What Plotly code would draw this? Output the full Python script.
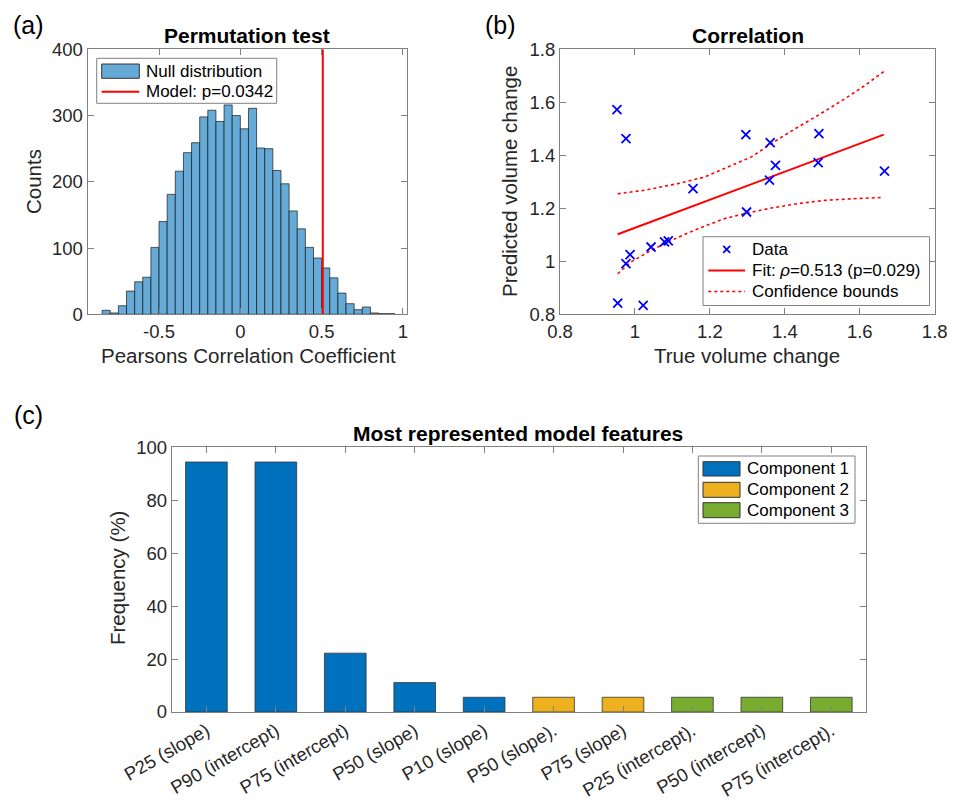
import plotly.graph_objects as go

W, H = 953, 801

# ---------------- (a) Permutation test ----------------
hist_first_edge = -0.85
hist_bin_width = 0.05
hist_counts = [6, 2, 13, 35, 49, 56, 101, 140, 181, 216, 244, 259, 298, 308, 291, 316,
               300, 280, 311, 251, 250, 217, 197, 156, 129, 101, 85, 70, 55, 32, 16, 7,
               11, 2, 1, 1]
model_r = 0.507
hist_xticks = [-0.5, 0, 0.5, 1]
hist_xticklabels = ["-0.5", "0", "0.5", "1"]
hist_yticks = [0, 100, 200, 300, 400]

# ---------------- (b) Correlation ----------------
true_change = [0.952, 0.976, 1.296, 1.361, 1.491, 1.375, 1.489, 1.359, 1.666, 1.155,
               1.298, 1.079, 1.089, 1.043, 0.987, 0.976, 0.954, 1.022]
pred_change = [1.572, 1.463, 1.478, 1.448, 1.482, 1.362, 1.372, 1.306, 1.340, 1.274,
               1.186, 1.073, 1.077, 1.054, 1.025, 0.991, 0.842, 0.834]
fit_x = [0.954, 1.664]
fit_y = [1.102, 1.478]
ci_upper_x = [0.954, 1.025, 1.114, 1.186, 1.248, 1.311, 1.364, 1.427, 1.489, 1.561, 1.614, 1.664]
ci_upper_y = [1.255, 1.268, 1.293, 1.318, 1.356, 1.394, 1.444, 1.500, 1.551, 1.614, 1.664, 1.716]
ci_lower_x = [0.954, 0.989, 1.043, 1.097, 1.168, 1.239, 1.293, 1.364, 1.436, 1.507, 1.579, 1.650, 1.664]
ci_lower_y = [0.953, 0.997, 1.041, 1.079, 1.123, 1.161, 1.180, 1.201, 1.218, 1.230, 1.236, 1.240, 1.241]
corr_ticks = [0.8, 1.0, 1.2, 1.4, 1.6, 1.8]
corr_ticklabels = ["0.8", "1", "1.2", "1.4", "1.6", "1.8"]

# ---------------- (c) Most represented model features ----------------
feature_labels = ["P25 (slope)", "P90 (intercept)", "P75 (intercept)", "P50 (slope)",
                  "P10 (slope)", "P50 (slope).", "P75 (slope)", "P25 (intercept).",
                  "P50 (intercept)", "P75 (intercept)."]
feature_freq = [94.44, 94.44, 22.22, 11.11, 5.56, 5.56, 5.56, 5.56, 5.56, 5.56]
feature_component = [1, 1, 1, 1, 1, 2, 2, 3, 3, 3]
component_names = ["Component 1", "Component 2", "Component 3"]
component_colors = ["#0072BD", "#EDB120", "#77AC30"]

FONT = "Liberation Sans, Arial, Helvetica, sans-serif"
TXT = "#262626"
AX = "#808080"
HIST_COLOR = "#66AAD7"


def X(px):
    return px / W


def Y(py):
    return 1 - py / H


fig = go.Figure()

# histogram bars
centers = [hist_first_edge + (i + 0.5) * hist_bin_width for i in range(len(hist_counts))]
fig.add_trace(go.Bar(x=centers, y=hist_counts, width=hist_bin_width,
                     marker=dict(color=HIST_COLOR, line=dict(color="rgba(20,20,20,0.85)", width=0.8)),
                     xaxis="x", yaxis="y", showlegend=False))
fig.add_trace(go.Scatter(x=[model_r, model_r], y=[hist_yticks[0], hist_yticks[-1]], mode="lines",
                         line=dict(color="#FF0000", width=2), xaxis="x", yaxis="y", showlegend=False))

# correlation
fig.add_trace(go.Scatter(x=ci_upper_x, y=ci_upper_y, mode="lines",
                         line=dict(color="#FF0000", width=1.6, dash="dot"),
                         xaxis="x2", yaxis="y2", showlegend=False))
fig.add_trace(go.Scatter(x=ci_lower_x, y=ci_lower_y, mode="lines",
                         line=dict(color="#FF0000", width=1.6, dash="dot"),
                         xaxis="x2", yaxis="y2", showlegend=False))
fig.add_trace(go.Scatter(x=fit_x, y=fit_y, mode="lines",
                         line=dict(color="#FF0000", width=2),
                         xaxis="x2", yaxis="y2", showlegend=False))
fig.add_trace(go.Scatter(x=true_change, y=pred_change, mode="markers",
                         marker=dict(symbol="x-thin", size=9, line=dict(color="#0000FF", width=1.8)),
                         xaxis="x2", yaxis="y2", showlegend=False))

# feature bars
for ci, (cname, ccol) in enumerate(zip(component_names, component_colors), start=1):
    xs = [i + 1 for i, c in enumerate(feature_component) if c == ci]
    ys = [feature_freq[i] for i, c in enumerate(feature_component) if c == ci]
    fig.add_trace(go.Bar(x=xs, y=ys, width=0.6, name=cname,
                         marker=dict(color=ccol, line=dict(color="#333333", width=0.8)),
                         xaxis="x3", yaxis="y3", showlegend=False))

axis_common = dict(showline=True, linecolor=AX, linewidth=1, mirror="ticks", ticks="inside",
                   ticklen=6, tickcolor=AX, tickwidth=1, showgrid=False, zeroline=False,
                   automargin=False,
                   tickfont=dict(family=FONT, size=18.5, color=TXT))

ya_dom = [Y(314.3), Y(49.3)]
fig.update_layout(
    width=W, height=H, margin=dict(l=0, r=0, t=0, b=0, autoexpand=False),
    paper_bgcolor="white", plot_bgcolor="white", barmode="overlay",
    font=dict(family=FONT, color=TXT),
    xaxis=dict(domain=[X(87.5), X(407)], range=[-0.94, 1.025], tickvals=hist_xticks,
               ticktext=hist_xticklabels, anchor="y", **axis_common),
    yaxis=dict(domain=ya_dom, range=[0, 400], tickvals=hist_yticks, anchor="x", **axis_common),
    xaxis2=dict(domain=[X(560), X(934.7)], range=[0.8, 1.8], tickvals=corr_ticks,
                ticktext=corr_ticklabels, anchor="y2", **axis_common),
    yaxis2=dict(domain=ya_dom, range=[0.8, 1.8], tickvals=corr_ticks,
                ticktext=corr_ticklabels, anchor="x2", **axis_common),
    xaxis3=dict(domain=[X(171.7), X(866)], range=[0.5, 10.5],
                tickvals=list(range(1, len(feature_labels) + 1)), ticktext=feature_labels,
                tickangle=-30, anchor="y3", **axis_common),
    yaxis3=dict(domain=[Y(712), Y(447.3)], range=[0, 100], tickvals=[0, 20, 40, 60, 80, 100],
                anchor="x3", **axis_common),
)

ann = []


def text(px, py, s, size, bold=False, xanchor="center", angle=0, color=TXT):
    ann.append(dict(x=X(px), y=Y(py), xref="paper", yref="paper", text=("<b>%s</b>" % s) if bold else s,
                    showarrow=False, xanchor=xanchor, yanchor="middle", textangle=angle,
                    font=dict(family=FONT, size=size, color=color)))


# panel labels
text(28, 25, "(a)", 25, color="#000000")
text(500, 25, "(b)", 25, color="#000000")
text(28, 415, "(c)", 25, color="#000000")
# titles
text(247, 35, "Permutation test", 21, bold=True, color="#000000")
text(748, 35, "Correlation", 21, bold=True, color="#000000")
text(518, 433, "Most represented model features", 21, bold=True, color="#000000")
# axis labels
text(33, 182, "Counts", 20.5, angle=-90)
text(248, 355, "Pearsons Correlation Coefficient", 20.5)
text(509, 181, "Predicted volume change", 20.5, angle=-90)
text(747, 355, "True volume change", 20.5)
text(117, 578, "Frequency (%)", 20.5, angle=-90)

shapes = []


def rect(x0, y0, x1, y1, fill, line="#808080", lw=1):
    shapes.append(dict(type="rect", xref="paper", yref="paper", x0=X(x0), x1=X(x1), y0=Y(y1), y1=Y(y0),
                       fillcolor=fill, line=dict(color=line, width=lw), layer="above"))


def seg(x0, y0, x1, y1, color, lw, dash="solid"):
    shapes.append(dict(type="line", xref="paper", yref="paper", x0=X(x0), x1=X(x1), y0=Y(y0), y1=Y(y1),
                       line=dict(color=color, width=lw, dash=dash), layer="above"))


LEG = 17
# legend (a)
rect(96.7, 58.3, 276.7, 103.3, "white")
rect(101.7, 64, 139.3, 78.3, HIST_COLOR, line="#333333", lw=1)
seg(101.7, 91.7, 139.3, 91.7, "#FF0000", 2)
text(143.5, 71, "Null distribution", LEG, xanchor="left", color="#000000")
text(143.5, 91.7, "Model: p=0.0342", LEG, xanchor="left", color="#000000")

# legend (b)
rect(703, 236.7, 929.5, 305.5, "white")
seg(723.2, 245.8, 730.2, 252.8, "#0000FF", 1.8)
seg(723.2, 252.8, 730.2, 245.8, "#0000FF", 1.8)
seg(708.3, 270.5, 745, 270.5, "#FF0000", 2)
seg(708.3, 291.5, 745, 291.5, "#FF0000", 1.6, "dot")
text(750, 249.3, "Data", LEG, xanchor="left", color="#000000")
text(750, 270.5, "Fit: <i>ρ</i>=0.513 (p=0.029)", LEG, xanchor="left", color="#000000")
text(750, 291.5, "Confidence bounds", LEG, xanchor="left", color="#000000")

# legend (c)
rect(698.3, 456, 855, 523.3, "white")
leg_rows = [(461.7, 476), (482.3, 497.3), (502.7, 517.7)]
for (y0, y1), cname, ccol in zip(leg_rows, component_names, component_colors):
    rect(703, y0, 740, y1, ccol, line="#333333", lw=1)
    text(745, (y0 + y1) / 2, cname, LEG, xanchor="left", color="#000000")

fig.update_layout(annotations=ann, shapes=shapes)
fig.write_html("out.html")
